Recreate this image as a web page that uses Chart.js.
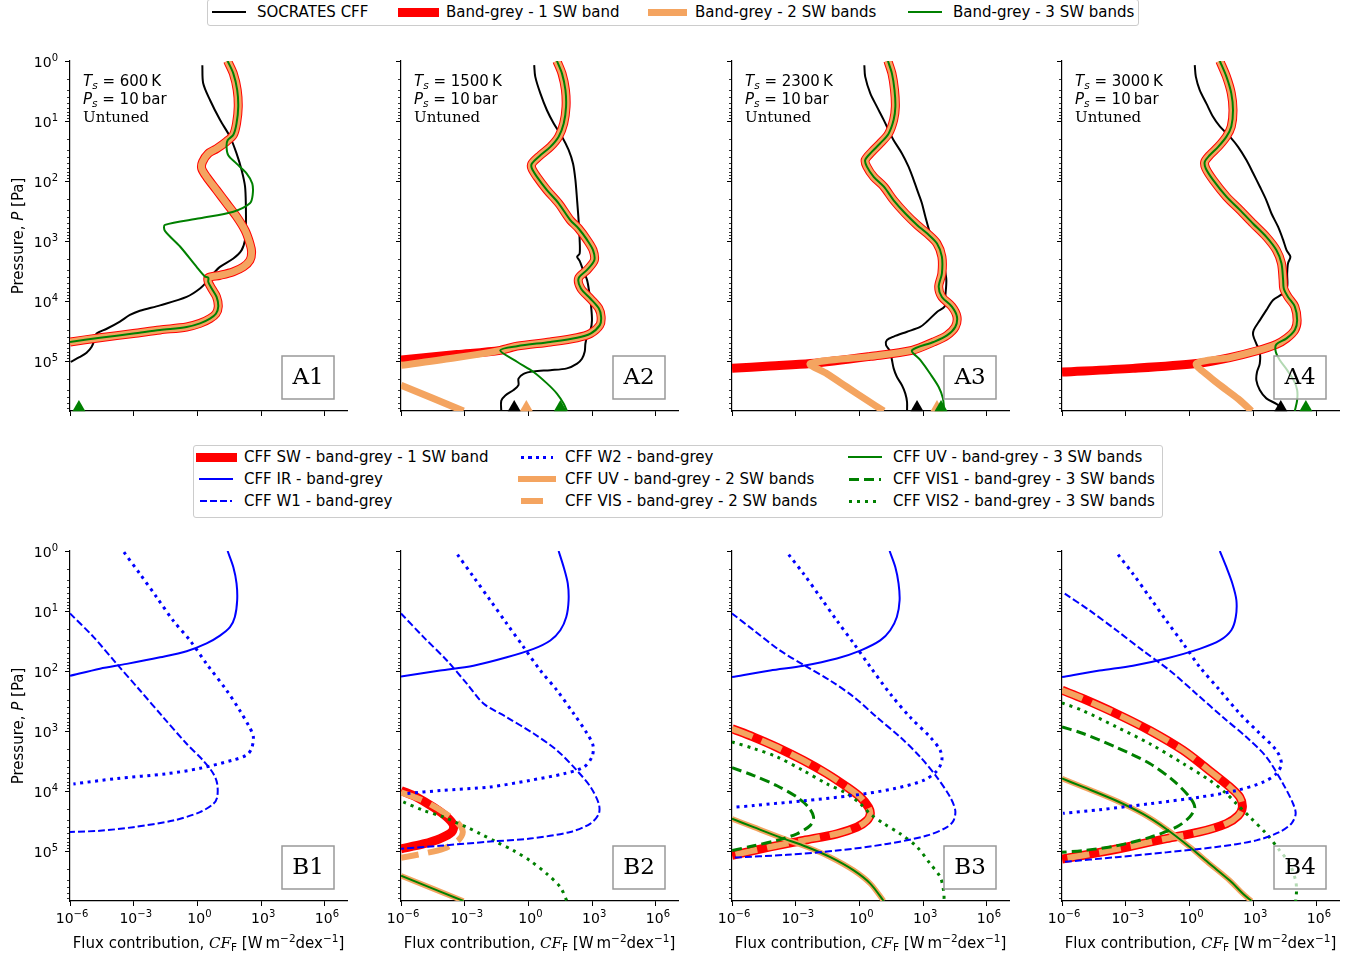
<!DOCTYPE html>
<html>
<head>
<meta charset="utf-8">
<script src="https://cdn.jsdelivr.net/npm/chart.js@4.4.1/dist/chart.umd.min.js"></script>
<style>
  body { margin: 0; background: #fff; width: 1350px; height: 957px; position: relative; overflow: hidden;
         font-family: "DejaVu Sans", sans-serif; color: #000; }
  canvas { position: absolute; }
  .frame { position: absolute; border: 1px solid #cccccc; border-radius: 3px; background: #fff; box-sizing: border-box; }
  .lab { position: absolute; white-space: nowrap; font-size: 15px; line-height: 18px; }
  .hdl { position: absolute; }
</style>
</head>
<body>
<script>
// All curves are stored as [log10 flux contribution, log10 pressure/Pa]
const fluxTicks = [-6, -3, 0, 3, 6];
const pressureTicks = [0, 1, 2, 3, 4, 5];
const surfaceTemps = [600, 1500, 2300, 3000];
const topNames = ['A1', 'A2', 'A3', 'A4'];
const bottomNames = ['B1', 'B2', 'B3', 'B4'];
const markerLevel = 5.77;

// ---- A1 ----
const a1Socrates = [[0.23,0.07],[0.27,0.37],[0.59,0.65],[1.06,0.98],[1.53,1.26],[1.84,1.54],[2.08,1.82],[2.24,2.09],[2.28,2.43],[2.28,2.76],[2.24,2.98],[2.08,3.15],[1.69,3.29],[1.06,3.43],[0.75,3.54],[0.51,3.65],[0.12,3.79],[-0.51,3.93],[-1.76,4.07],[-2.71,4.16],[-3.18,4.23],[-3.65,4.34],[-4.27,4.46],[-4.75,4.54],[-4.82,4.62],[-4.98,4.76],[-5.22,4.86],[-5.53,4.93],[-5.97,5.01]];
const a1Upper = [[1.42,0],[1.69,0.21],[1.87,0.48],[1.92,0.76],[1.84,1.04],[1.69,1.23]];
const a1Middle = [[1.37,1.34],[0.90,1.46],[0.51,1.54],[0.24,1.68],[0.20,1.79],[0.43,1.93],[0.90,2.15],[1.37,2.37],[1.84,2.59],[2.24,2.82],[2.47,3.04],[2.55,3.18],[2.47,3.32],[2.16,3.43],[1.69,3.51],[1.06,3.57]];
const a1GreenMid = [[1.42,1.32],[1.37,1.43],[1.45,1.57],[1.84,1.71],[2.31,1.87],[2.58,2.04],[2.60,2.23],[2.47,2.37],[1.69,2.51],[0.12,2.62],[-1.53,2.73],[-1.53,2.83],[-0.82,3.09],[-0.04,3.43],[0.35,3.59]];
const a1Lower = [[0.51,3.61],[0.51,3.68],[0.67,3.79],[0.90,3.93],[0.98,4.09],[0.87,4.21],[0.59,4.29],[0.12,4.37],[-0.51,4.43],[-1.76,4.48],[-3.02,4.54],[-4.59,4.61],[-6,4.68]];
const a1Surface = [['grey3', -5.58]];

// ---- A2 ----
const a2Socrates = [[0.27,0.07],[0.32,0.26],[0.56,0.54],[0.87,0.82],[1.19,1.04],[1.58,1.26],[1.89,1.48],[2.10,1.71],[2.21,1.98],[2.29,2.32],[2.36,2.65],[2.41,2.98],[2.41,3.21],[2.29,3.26],[2.41,3.33],[2.57,3.48],[2.76,3.65],[2.87,3.87],[2.95,4.09],[2.99,4.32],[2.92,4.48],[2.76,4.59],[2.68,4.71],[2.65,4.84],[2.52,4.96],[2.29,5.04],[1.81,5.12],[1.03,5.15],[0.24,5.17],[-0.23,5.21],[-0.47,5.29],[-0.47,5.40],[-0.70,5.48],[-1.09,5.57],[-1.28,5.66],[-1.28,5.83]];
const a2Band = [[1.34,0],[1.58,0.21],[1.74,0.48],[1.77,0.76],[1.66,1.04],[1.42,1.26],[1.03,1.43],[0.56,1.57],[0.16,1.71],[0.16,1.79],[0.40,1.93],[0.87,2.15],[1.42,2.37],[1.97,2.65],[2.36,2.79],[2.76,2.98],[3.04,3.15],[3.10,3.32],[2.76,3.48],[2.36,3.62],[2.47,3.79],[2.92,3.96],[3.31,4.12],[3.42,4.26],[3.36,4.40],[2.92,4.54],[2.29,4.61],[1.03,4.68],[-0.54,4.75],[-1.33,4.82]];
const a2RedTail = [[-3.37,4.89],[-6,4.98]];
const a2OrangeTail = [[-3.37,4.94],[-6,5.07]];
const a2OrangeDeep = [[-6,5.40],[-3.06,5.83]];
const a2GreenTail = [[-0.54,5.01],[0.24,5.18],[0.87,5.37],[1.34,5.54],[1.66,5.71],[1.81,5.83]];
const a2Surface = [['socrates', -0.67], ['grey2', -0.10], ['grey3', 1.50]];

// ---- A3 ----
const a3Socrates = [[0.23,0.07],[0.27,0.26],[0.51,0.54],[0.82,0.76],[1.14,0.98],[1.37,1.15],[1.61,1.32],[2.00,1.54],[2.31,1.76],[2.55,1.98],[2.78,2.21],[2.94,2.37],[3.10,2.59],[3.33,2.87],[3.65,3.09],[3.84,3.26],[3.99,3.43],[4.09,3.65],[4.04,3.93],[4.01,4.09],[3.65,4.18],[3.18,4.34],[2.86,4.43],[2.24,4.51],[1.61,4.59],[1.29,4.65],[1.25,4.73],[1.45,4.84],[1.53,4.98],[1.61,5.12],[1.76,5.26],[2.00,5.40],[2.16,5.54],[2.24,5.68],[2.24,5.83]];
const a3Upper = [[1.34,0],[1.53,0.21],[1.65,0.48],[1.69,0.76],[1.61,0.98],[1.37,1.21],[0.98,1.37],[0.59,1.51],[0.27,1.65],[0.35,1.76],[0.67,1.93],[1.14,2.09],[1.61,2.32],[2.16,2.54],[2.71,2.73],[3.18,2.87],[3.65,3.04],[3.88,3.26],[3.88,3.54],[3.73,3.76],[3.88,3.93],[4.35,4.09],[4.59,4.26],[4.51,4.43],[4.12,4.57],[3.49,4.68],[2.47,4.82]];
const a3Lower = [[0.51,4.92],[-2.31,5.04]];
const a3RedTail = [[-4.20,5.08],[-6,5.12]];
const a3OrangeTail = [[-1.53,5.21],[-0.59,5.43],[0.35,5.65],[1.14,5.83]];
const a3GreenTail = [[2.86,4.98],[3.33,5.21],[3.73,5.43],[3.93,5.62],[3.99,5.83]];
const a3Surface = [['socrates', 2.71], ['grey2', 3.65], ['grey3', 3.84]];

// ---- A4 ----
const a4Socrates = [[0.25,0.07],[0.30,0.26],[0.48,0.48],[0.80,0.71],[1.11,0.93],[1.43,1.09],[1.90,1.26],[2.29,1.43],[2.68,1.65],[3.00,1.87],[3.31,2.09],[3.62,2.32],[3.86,2.54],[4.17,2.76],[4.41,2.98],[4.57,3.15],[4.75,3.26],[4.64,3.37],[4.60,3.54],[4.60,3.76],[4.41,3.87],[3.94,3.98],[3.62,4.15],[3.31,4.32],[3.03,4.48],[3.00,4.57],[3.15,4.71],[3.31,4.84],[3.31,5.04],[3.18,5.18],[3.15,5.32],[3.31,5.48],[3.62,5.62],[4.09,5.71],[4.41,5.79],[4.49,5.83]];
const a4Upper = [[1.43,0],[1.74,0.26],[1.97,0.54],[2.05,0.82],[1.97,1.09],[1.74,1.26],[1.35,1.43],[0.95,1.57],[0.72,1.68],[0.77,1.79],[1.11,1.98],[1.74,2.26],[2.37,2.48],[3.00,2.71],[3.62,2.93],[4.09,3.15],[4.33,3.37],[4.41,3.65],[4.44,3.79],[4.64,3.93],[4.96,4.09],[5.07,4.32],[4.96,4.48],[4.57,4.62],[4.09,4.72]];
const a4Lower = [[3.15,4.83],[1.90,4.94],[0.33,5.04]];
const a4RedTail = [[-2.66,5.12],[-6,5.18]];
const a4OrangeTail = [[0.95,5.26],[1.74,5.48],[2.37,5.65],[2.92,5.83]];
const a4GreenTail = [[4.06,4.84],[4.25,4.98],[4.60,5.15],[4.91,5.32],[5.07,5.48],[5.07,5.65],[4.96,5.83]];
const a4Surface = [['socrates', 4.30], ['grey3', 5.48]];

// ---- B1 ----
const b1Ir = [[1.42,0],[1.69,0.27],[1.84,0.54],[1.87,0.82],[1.76,1.10],[1.53,1.27],[1.06,1.41],[0.43,1.54],[-0.51,1.67],[-1.76,1.77],[-3.33,1.88],[-4.59,1.96],[-6,2.08]];
const b1W1 = [[-6,1.04],[-4.90,1.43],[-3.80,1.88],[-2.71,2.32],[-1.61,2.77],[-0.51,3.21],[0.27,3.49],[0.75,3.71],[0.93,3.88],[0.93,4.10],[0.75,4.21],[0.12,4.35],[-1.14,4.49],[-3.02,4.60],[-4.59,4.66],[-6,4.68]];
const b1W2 = [[-3.46,0.02],[-2.71,0.38],[-1.92,0.77],[-1.14,1.16],[-0.35,1.49],[0.43,1.88],[1.37,2.32],[2.00,2.66],[2.44,2.93],[2.63,3.09],[2.55,3.29],[2.31,3.40],[1.69,3.48],[0.12,3.62],[-1.45,3.71],[-3.80,3.79],[-5.84,3.88]];

// ---- B2 ----
const b2Ir = [[1.42,0],[1.66,0.27],[1.85,0.54],[1.89,0.82],[1.78,1.10],[1.50,1.32],[1.03,1.49],[0.24,1.63],[-1.02,1.77],[-2.59,1.91],[-4.16,1.99],[-6,2.09]];
const b2W1 = [[-6,1.04],[-4.95,1.43],[-3.85,1.82],[-2.90,2.21],[-2.12,2.54],[-1.02,2.77],[0.24,3.04],[1.34,3.32],[2.29,3.66],[2.92,3.93],[3.31,4.21],[3.31,4.38],[2.92,4.54],[1.97,4.68],[0.08,4.79],[-1.80,4.84],[-4.16,4.91],[-6,4.96]];
const b2W2 = [[-3.34,0.06],[-2.59,0.43],[-1.80,0.82],[-1.02,1.21],[-0.23,1.60],[0.56,1.99],[1.34,2.32],[2.13,2.71],[2.76,3.04],[3.04,3.24],[2.99,3.43],[2.60,3.60],[1.66,3.71],[0.08,3.82],[-1.80,3.93],[-4.16,3.99],[-5.73,4.04]];
const b2Sw = [[-6,3.99],[-5.26,4.10],[-4.47,4.27],[-3.85,4.43],[-3.53,4.57],[-3.61,4.68],[-4.16,4.79],[-4.95,4.88],[-6,4.96]];
const b2Vis = [[-6,4.02],[-4.95,4.16],[-4.00,4.35],[-3.30,4.54],[-3.09,4.68],[-3.30,4.82],[-4.00,4.96],[-4.95,5.04],[-6,5.11]];
const b2Uv = [[-6,5.41],[-3.06,5.83]];
const b2Vis2 = [[-5.89,4.18],[-4.95,4.32],[-4.00,4.43],[-3.37,4.53],[-2.90,4.60],[-2.27,4.71],[-1.49,4.85],[-0.70,4.99],[0.08,5.16],[0.87,5.38],[1.50,5.60],[1.81,5.83]];

// ---- B3 ----
const b3Ir = [[1.42,0],[1.69,0.27],[1.84,0.54],[1.89,0.82],[1.76,1.10],[1.45,1.32],[0.98,1.49],[0.04,1.66],[-1.06,1.79],[-2.63,1.91],[-4.20,1.99],[-6,2.10]];
const b3W1 = [[-6,1.04],[-4.98,1.32],[-3.73,1.66],[-2.47,1.93],[-1.37,2.16],[-0.27,2.43],[0.82,2.77],[1.92,3.10],[2.86,3.43],[3.65,3.77],[4.27,4.10],[4.51,4.32],[4.43,4.49],[4.12,4.60],[3.18,4.74],[1.29,4.88],[-1.06,4.99],[-3.41,5.06],[-6,5.11]];
const b3W2 = [[-3.33,0.06],[-2.63,0.38],[-1.84,0.77],[-1.06,1.16],[-0.27,1.54],[0.51,1.93],[1.45,2.38],[2.39,2.77],[3.33,3.10],[3.80,3.32],[3.88,3.49],[3.65,3.66],[3.02,3.82],[1.61,3.96],[-0.27,4.07],[-2.63,4.16],[-4.98,4.24],[-5.92,4.27]];
const b3Sw = [[-6,2.96],[-4.98,3.10],[-3.88,3.27],[-2.63,3.49],[-1.53,3.71],[-0.59,3.93],[0.04,4.10],[0.43,4.27],[0.51,4.38],[0.35,4.49],[-0.12,4.60],[-1.06,4.71],[-2.63,4.82],[-4.20,4.93],[-6,5.07]];
const b3Uv = [[-6,4.46],[-4.98,4.60],[-3.73,4.77],[-2.47,4.93],[-1.37,5.10],[-0.27,5.32],[0.51,5.54],[1.14,5.83]];
const b3Vis1 = [[-6,3.61],[-4.98,3.74],[-3.88,3.91],[-2.94,4.10],[-2.39,4.27],[-2.16,4.43],[-2.31,4.57],[-2.94,4.71],[-3.88,4.82],[-4.98,4.91],[-6,4.99]];
const b3Vis2 = [[-6,3.18],[-4.98,3.29],[-3.88,3.43],[-2.63,3.66],[-1.53,3.88],[-0.59,4.04],[0.04,4.21],[0.51,4.38],[1.14,4.54],[1.92,4.71],[2.71,4.93],[3.33,5.21],[3.80,5.43],[3.96,5.66],[3.99,5.83]];

// ---- B4 ----
const b4Ir = [[1.43,0],[1.74,0.27],[2.02,0.54],[2.21,0.82],[2.18,1.10],[1.97,1.32],[1.43,1.49],[0.48,1.63],[-1.09,1.79],[-2.66,1.91],[-4.23,1.99],[-6,2.10]];
const b4W1 = [[-5.87,0.71],[-4.70,0.99],[-3.44,1.32],[-2.19,1.66],[-0.93,1.99],[0.33,2.38],[1.58,2.77],[2.68,3.10],[3.62,3.43],[4.41,3.88],[4.88,4.21],[5.00,4.38],[4.80,4.54],[4.25,4.68],[3.15,4.82],[1.27,4.93],[-1.09,5.02],[-3.44,5.10],[-5.95,5.18]];
const b4W2 = [[-3.36,0.06],[-2.66,0.38],[-1.87,0.77],[-1.09,1.16],[-0.30,1.54],[0.48,1.93],[1.43,2.32],[2.37,2.71],[3.31,3.04],[4.09,3.32],[4.33,3.54],[4.09,3.71],[3.47,3.85],[2.21,3.99],[0.48,4.10],[-1.87,4.21],[-4.23,4.31],[-5.95,4.37]];
const b4Sw = [[-6,2.32],[-5.01,2.46],[-3.44,2.71],[-1.87,2.99],[-0.30,3.32],[0.95,3.66],[1.90,3.93],[2.37,4.10],[2.49,4.27],[2.29,4.41],[1.74,4.54],[0.48,4.68],[-1.09,4.79],[-2.66,4.91],[-4.23,5.02],[-6,5.13]];
const b4Uv = [[-6,3.79],[-5.01,3.93],[-3.44,4.16],[-2.19,4.38],[-1.09,4.63],[0.01,4.93],[0.95,5.21],[1.90,5.49],[2.52,5.71],[2.92,5.83]];
const b4Vis1 = [[-6,2.93],[-5.01,3.04],[-3.44,3.27],[-1.87,3.54],[-0.77,3.82],[0.01,4.10],[0.25,4.27],[0.01,4.43],[-0.62,4.60],[-1.87,4.77],[-3.44,4.91],[-5.01,4.99],[-6,5.02]];
const b4Vis2 = [[-6,2.53],[-5.01,2.66],[-3.44,2.93],[-1.87,3.21],[-0.30,3.54],[0.95,3.82],[1.74,4.04],[2.21,4.21],[2.84,4.43],[3.62,4.71],[4.25,4.99],[4.72,5.21],[5.00,5.49],[5.04,5.66],[5.00,5.83]];

// line styles
const st = {
  socrates: { color: '#000000', width: 2 },
  grey1:    { color: '#ff0000', width: 9 },
  grey2:    { color: '#f4a460', width: 7 },
  grey3:    { color: '#008000', width: 2 },
  sw:       { color: '#ff0000', width: 9 },
  ir:       { color: '#0000ff', width: 2 },
  w1:       { color: '#0000ff', width: 2, dash: [7, 3] },
  w2:       { color: '#0000ff', width: 3, dash: [3, 4.5] },
  uv2:      { color: '#f4a460', width: 5.5 },
  vis2:     { color: '#f4a460', width: 6, dash: [22, 10] },
  uv3:      { color: '#008000', width: 2 },
  vis1:     { color: '#008000', width: 3, dash: [10, 5] },
  vis3:     { color: '#008000', width: 3, dash: [3, 5] }
};

// layout
const colLefts = [70, 401, 732, 1062];
const rowTops = [61, 551];
const plotW = 277, plotH = 350, axisW = 70, padTop = 14, padRight = 8;
const xAxisH = [14, 56];
const FONT = '"DejaVu Sans"';
const SERIF = '"DejaVu Serif"';

// paint order: first entry is drawn at the bottom
const topPanels = [
  { lines: [[a1Socrates, 'socrates'], [[...a1Upper, ...a1Middle, ...a1Lower], 'grey1'], [[...a1Upper, ...a1Middle, ...a1Lower], 'grey2'], [[...a1Upper, ...a1GreenMid, ...a1Lower], 'grey3']], surface: a1Surface },
  { lines: [[a2Socrates, 'socrates'], [[...a2Band, ...a2RedTail], 'grey1'], [[...a2Band, ...a2OrangeTail], 'grey2'], [a2OrangeDeep, 'grey2'], [[...a2Band, ...a2GreenTail], 'grey3']], surface: a2Surface },
  { lines: [[a3Socrates, 'socrates'], [[...a3Upper, ...a3Lower, ...a3RedTail], 'grey1'], [[...a3Upper, ...a3Lower, ...a3OrangeTail], 'grey2'], [[...a3Upper, ...a3GreenTail], 'grey3']], surface: a3Surface },
  { lines: [[a4Socrates, 'socrates'], [[...a4Upper, ...a4Lower, ...a4RedTail], 'grey1'], [[...a4Upper, ...a4Lower, ...a4OrangeTail], 'grey2'], [[...a4Upper, ...a4GreenTail], 'grey3']], surface: a4Surface }
];
const bottomPanels = [
  { lines: [[b1Ir, 'ir'], [b1W1, 'w1'], [b1W2, 'w2']] },
  { lines: [[b2Sw, 'sw'], [b2Uv, 'uv2'], [b2Vis, 'vis2'], [b2Uv, 'uv3'], [b2Vis2, 'vis3'], [b2Ir, 'ir'], [b2W1, 'w1'], [b2W2, 'w2']] },
  { lines: [[b3Sw, 'sw'], [b3Uv, 'uv2'], [b3Sw, 'vis2'], [b3Uv, 'uv3'], [b3Vis1, 'vis1'], [b3Vis2, 'vis3'], [b3Ir, 'ir'], [b3W1, 'w1'], [b3W2, 'w2']] },
  { lines: [[b4Sw, 'sw'], [b4Uv, 'uv2'], [b4Sw, 'vis2'], [b4Uv, 'uv3'], [b4Vis1, 'vis1'], [b4Vis2, 'vis3'], [b4Ir, 'ir'], [b4W1, 'w1'], [b4W2, 'w2']] }
];

// draw a run of differently styled text pieces on one baseline
function richText(ctx, parts, x, y, align) {
  let total = 0;
  parts.forEach(p => { ctx.font = p.font; p.w = ctx.measureText(p.t).width; total += p.w; });
  let cx = x;
  if (align === 'center') cx = x - total / 2;
  if (align === 'right') cx = x - total;
  ctx.textAlign = 'left';
  ctx.textBaseline = 'alphabetic';
  ctx.fillStyle = '#000';
  parts.forEach(p => { ctx.font = p.font; ctx.fillText(p.t, cx, y + (p.dy || 0)); cx += p.w; });
}

// "10^n" tick label with a raised exponent
const powerParts = v => [
  { t: '10', font: `14px ${FONT}` },
  { t: String(v).replace('-', '\u2212'), font: `10px ${FONT}`, dy: -6 }
];

const decor = {
  id: 'decor',
  afterDatasetsDraw(chart, args, o) {
    const ctx = chart.ctx, a = chart.chartArea;
    ctx.save();
    if (o.row === 0) {
      const x0 = a.left + 13;
      richText(ctx, [
        { t: 'T', font: `italic 15px ${FONT}` },
        { t: 's', font: `italic 10.5px ${FONT}`, dy: 3 },
        { t: ' = ' + o.temp + '\u2009K', font: `15px ${FONT}` }
      ], x0, a.top + 25);
      richText(ctx, [
        { t: 'P', font: `italic 15px ${FONT}` },
        { t: 's', font: `italic 10.5px ${FONT}`, dy: 3 },
        { t: ' = 10\u2009bar', font: `15px ${FONT}` }
      ], x0, a.top + 42.5);
      richText(ctx, [{ t: 'Untuned', font: `15px ${SERIF}` }], x0, a.top + 60.5);
    }
    // panel tag box
    const bw = 52, bh = 43;
    const bx = a.right - 13 - bw, by = a.bottom - 12 - bh;
    ctx.fillStyle = 'rgba(255,255,255,0.7)';
    ctx.fillRect(bx, by, bw, bh);
    ctx.strokeStyle = '#999999';
    ctx.lineWidth = 1.5;
    ctx.strokeRect(bx, by, bw, bh);
    ctx.fillStyle = '#000';
    ctx.font = `23px ${SERIF}`;
    ctx.textAlign = 'center';
    ctx.textBaseline = 'middle';
    ctx.fillText(o.tag, bx + bw / 2, by + bh / 2 + 1);
    ctx.restore();
  },
  afterDraw(chart, args, o) {
    const ctx = chart.ctx, a = chart.chartArea, ys = chart.scales.y, xs = chart.scales.x;
    ctx.save();
    // minor ticks on the pressure axis
    ctx.strokeStyle = '#000';
    ctx.lineWidth = 0.8;
    ctx.beginPath();
    for (let n = 0; n <= 5; n++) {
      for (let k = 2; k <= 9; k++) {
        const v = n + Math.log10(k);
        if (v > ys.max) break;
        const py = Math.round(ys.getPixelForValue(v)) + 0.5;
        ctx.moveTo(a.left - 3, py);
        ctx.lineTo(a.left, py);
      }
    }
    ctx.stroke();
    if (o.col === 0) {
      pressureTicks.forEach(v => richText(ctx, powerParts(v), a.left - 12, ys.getPixelForValue(v) + 5.5, 'right'));
      ctx.translate(a.left - 52, (a.top + a.bottom) / 2);
      ctx.rotate(-Math.PI / 2);
      richText(ctx, [
        { t: 'Pressure, ', font: `15px ${FONT}` },
        { t: 'P', font: `italic 15px ${FONT}` },
        { t: ' [Pa]', font: `15px ${FONT}` }
      ], 0, 5, 'center');
      ctx.setTransform(1, 0, 0, 1, 0, 0);
    }
    if (o.row === 1) {
      fluxTicks.forEach(v => richText(ctx, powerParts(v), xs.getPixelForValue(v) + 2, a.bottom + 22, 'center'));
      richText(ctx, [
        { t: 'Flux contribution, ', font: `15px ${FONT}` },
        { t: 'CF', font: `italic 15px ${SERIF}` },
        { t: 'F', font: `10.5px ${FONT}`, dy: 3 },
        { t: ' [W\u2009m', font: `15px ${FONT}` },
        { t: '\u22122', font: `10.5px ${FONT}`, dy: -6 },
        { t: 'dex', font: `15px ${FONT}` },
        { t: '\u22121', font: `10.5px ${FONT}`, dy: -6 },
        { t: ']', font: `15px ${FONT}` }
      ], (a.left + a.right) / 2, a.bottom + 47, 'center');
    }
    ctx.restore();
  }
};

function lineSet(data, key) {
  const s = st[key];
  return {
    data, showLine: true, borderColor: s.color, borderWidth: s.width, borderDash: s.dash || [],
    pointRadius: 0, tension: 0.3, fill: false, clip: 0, borderCapStyle: 'butt', borderJoinStyle: 'round'
  };
}

function markerSet(key, x) {
  return {
    data: [[x, markerLevel]], showLine: false, pointStyle: 'triangle', pointRadius: 7.5,
    backgroundColor: st[key].color, borderColor: st[key].color, borderWidth: 0, clip: false
  };
}

function makePanel(col, row, panel, tag, temp) {
  const c = document.createElement('canvas');
  const w = axisW + plotW + padRight, h = padTop + plotH + xAxisH[row];
  c.width = w; c.height = h;
  c.style.left = (colLefts[col] - axisW) + 'px';
  c.style.top = (rowTops[row] - padTop) + 'px';
  c.style.width = w + 'px'; c.style.height = h + 'px';
  document.body.appendChild(c);

  const sets = panel.lines.map(([d, k]) => lineSet(d, k));
  (panel.surface || []).forEach(([k, x]) => sets.push(markerSet(k, x)));
  sets.forEach((s, i) => { s.order = sets.length - i; });

  new Chart(c, {
    type: 'scatter',
    data: { datasets: sets },
    options: {
      responsive: false, animation: false, devicePixelRatio: 1, events: [],
      layout: { padding: { top: padTop, right: padRight, left: 0, bottom: 0 } },
      plugins: { legend: { display: false }, tooltip: { enabled: false }, decor: { col, row, tag, temp } },
      scales: {
        x: {
          type: 'linear', min: -6, max: 7.04,
          afterBuildTicks: s => { s.ticks = fluxTicks.map(v => ({ value: v })); },
          afterFit: s => { s.height = xAxisH[row]; },
          ticks: { display: false },
          grid: { drawOnChartArea: false, drawTicks: true, tickLength: 5, color: '#000', lineWidth: 1 },
          border: { display: true, color: '#000', width: 1.2 }
        },
        y: {
          type: 'linear', reverse: true, min: 0, max: 5.83,
          afterBuildTicks: s => { s.ticks = pressureTicks.map(v => ({ value: v })); },
          afterFit: s => { s.width = axisW; },
          ticks: { display: false },
          grid: { drawOnChartArea: false, drawTicks: true, tickLength: 5, color: '#000', lineWidth: 1 },
          border: { display: true, color: '#000', width: 1.2 }
        }
      }
    },
    plugins: [decor]
  });
}

topPanels.forEach((p, i) => makePanel(i, 0, p, topNames[i], surfaceTemps[i]));
bottomPanels.forEach((p, i) => makePanel(i, 1, p, bottomNames[i], surfaceTemps[i]));

// ---- legends ----
const topLegend = [
  { key: 'socrates', text: 'SOCRATES CFF', hx: 213 },
  { key: 'grey1', text: 'Band-grey - 1 SW band', hx: 402 },
  { key: 'grey2', text: 'Band-grey - 2 SW bands', hx: 651 },
  { key: 'grey3', text: 'Band-grey - 3 SW bands', hx: 909 }
];
const bottomLegend = [
  { key: 'sw', text: 'CFF SW - band-grey - 1 SW band', hx: 200, row: 0 },
  { key: 'ir', text: 'CFF IR - band-grey', hx: 200, row: 1 },
  { key: 'w1', text: 'CFF W1 - band-grey', hx: 200, row: 2 },
  { key: 'w2', text: 'CFF W2 - band-grey', hx: 521, row: 0 },
  { key: 'uv2', text: 'CFF UV - band-grey - 2 SW bands', hx: 521, row: 1 },
  { key: 'vis2', text: 'CFF VIS - band-grey - 2 SW bands', hx: 521, row: 2 },
  { key: 'uv3', text: 'CFF UV - band-grey - 3 SW bands', hx: 849, row: 0 },
  { key: 'vis1', text: 'CFF VIS1 - band-grey - 3 SW bands', hx: 849, row: 1 },
  { key: 'vis3', text: 'CFF VIS2 - band-grey - 3 SW bands', hx: 849, row: 2 }
];

function addFrame(l, t, w, h) {
  const d = document.createElement('div');
  d.className = 'frame';
  Object.assign(d.style, { left: l + 'px', top: t + 'px', width: w + 'px', height: h + 'px' });
  document.body.appendChild(d);
}

function addEntry(e, yc) {
  const s = st[e.key];
  const hd = document.createElement('div');
  hd.className = 'hdl';
  let x0 = e.hx, len = 32;
  if (!s.dash) { x0 -= s.width / 2; len += s.width; }
  Object.assign(hd.style, { left: x0 + 'px', top: (yc - s.width / 2) + 'px', width: len + 'px', height: s.width + 'px' });
  if (s.dash) {
    const [d0, d1] = s.dash;
    hd.style.background = `repeating-linear-gradient(90deg, ${s.color} 0 ${d0}px, transparent ${d0}px ${d0 + d1}px)`;
  } else {
    hd.style.background = s.color;
  }
  document.body.appendChild(hd);
  const tx = document.createElement('div');
  tx.className = 'lab';
  tx.textContent = e.text;
  Object.assign(tx.style, { left: (e.hx + 44) + 'px', top: (yc - 9) + 'px' });
  document.body.appendChild(tx);
}

addFrame(207, -1, 932, 27);
topLegend.forEach(e => addEntry(e, 12));
addFrame(193, 445, 970, 73);
const legendRows = [457, 479, 501];
bottomLegend.forEach(e => addEntry(e, legendRows[e.row]));
</script>
</body>
</html>
